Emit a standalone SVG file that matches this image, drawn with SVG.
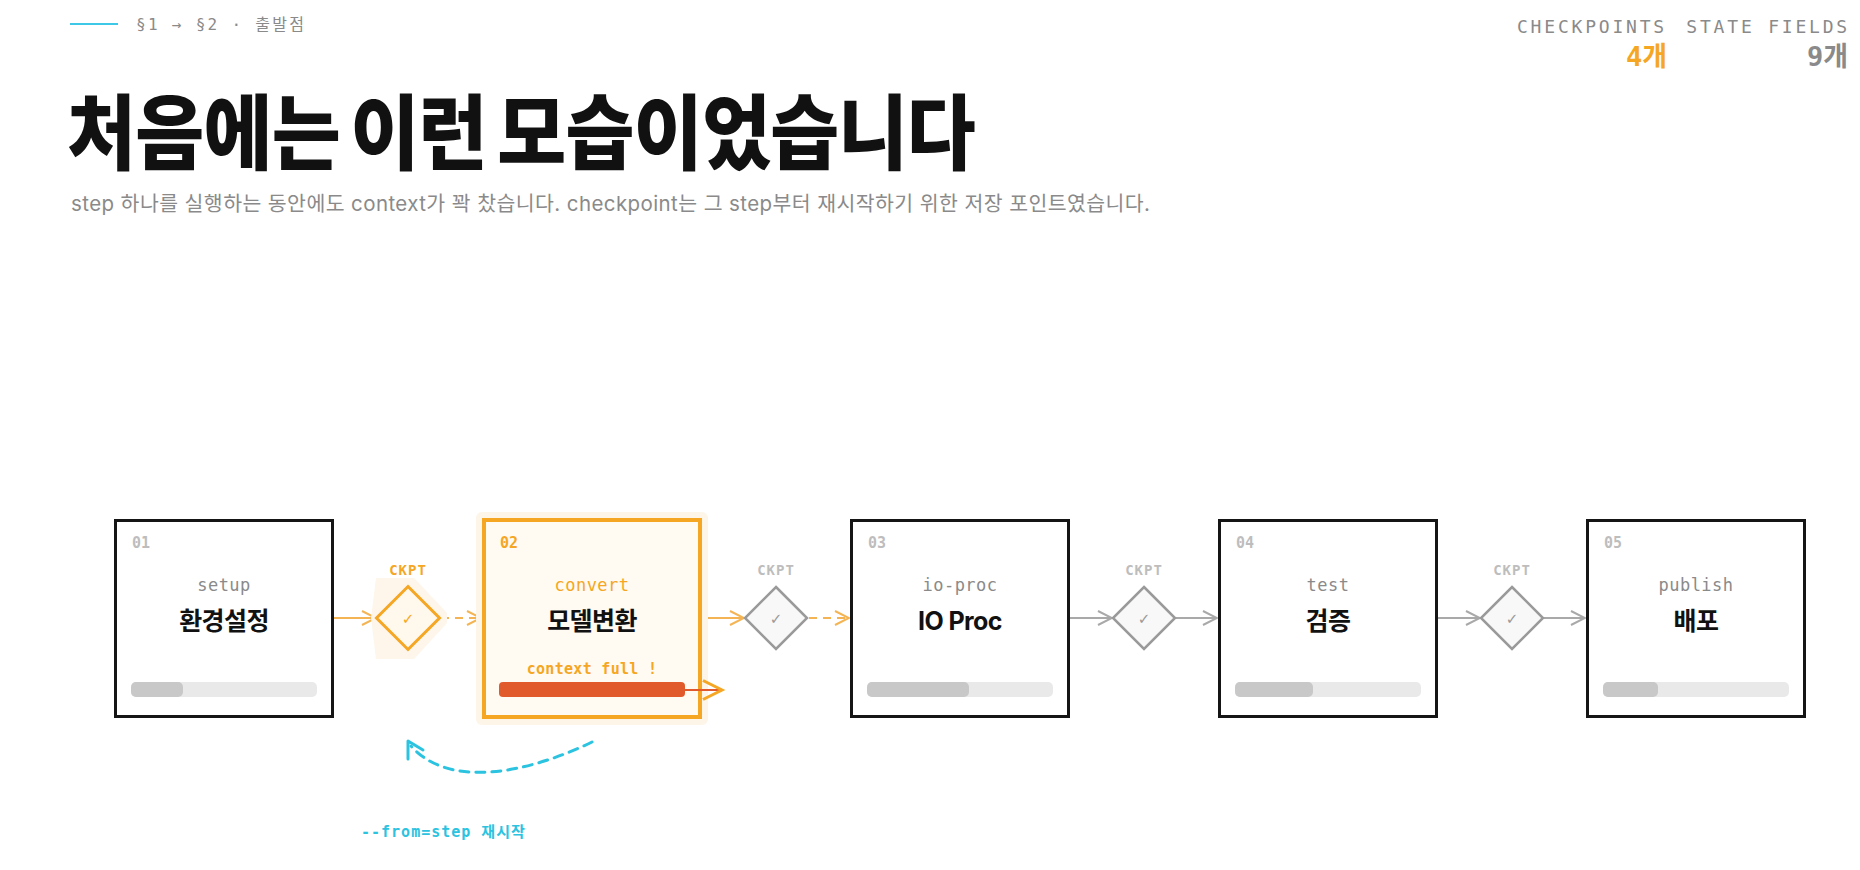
<svg xmlns="http://www.w3.org/2000/svg" width="1860" height="870" viewBox="0 0 1860 870">
<style>
.mono{font-family:"DejaVu Sans Mono","Liberation Mono","Noto Sans CJK KR",monospace}
.sans{font-family:"Inter","Noto Sans CJK KR",sans-serif}
.num{font-size:15px;font-weight:700;fill:#bdbdbd}
.key{font-size:17px;fill:#8a8a8a;text-anchor:middle;letter-spacing:0.5px}
.lab{font-size:25px;font-weight:700;fill:#111;text-anchor:middle;letter-spacing:-0.6px}
.box{fill:#fff;stroke:#151515;stroke-width:3}
.track{fill:#e9e9e9}
.fill{fill:#c8c8c8}
.ck{font-size:14px;font-weight:700;text-anchor:middle;letter-spacing:1px}
.chk{font-family:"DejaVu Sans",sans-serif;font-size:15px;text-anchor:middle}
.lnO{stroke:#f5b453;stroke-width:2;fill:none}
.lnG{stroke:#a9a9a9;stroke-width:2;fill:none}
.dash{stroke-dasharray:8 6}
</style>
<defs>
<marker id="chevO" viewBox="0 0 16 16" refX="15" refY="8" markerWidth="16" markerHeight="16" markerUnits="userSpaceOnUse" orient="auto">
<path d="M1 1 L15 8 L1 15" fill="none" stroke="#f5b453" stroke-width="2"/>
</marker>
<marker id="chevG" viewBox="0 0 16 16" refX="15" refY="8" markerWidth="16" markerHeight="16" markerUnits="userSpaceOnUse" orient="auto">
<path d="M1 1 L15 8 L1 15" fill="none" stroke="#a9a9a9" stroke-width="2"/>
</marker>
</defs>
<rect width="1860" height="870" fill="#fff"/>

<g id="header">
<line x1="70" y1="24" x2="118" y2="24" stroke="#3cc8e6" stroke-width="2"/>
<text x="136" y="30" class="mono" font-size="16" fill="#8a8a8a" letter-spacing="2.3">§1 → §2 · 출발점</text>
<text x="73.3" y="163" transform="scale(0.914,1)" class="sans" font-size="82" font-weight="900" fill="#111" letter-spacing="-0.8" word-spacing="-4">처음에는 이런 모습이었습니다</text>
<text x="71" y="211" class="sans" font-size="20.5" fill="#8a8a8a" textLength="1079" lengthAdjust="spacing">step 하나를 실행하는 동안에도 context가 꽉 찼습니다. checkpoint는 그 step부터 재시작하기 위한 저장 포인트였습니다.</text>
</g>

<g id="stats">
<text x="1667" y="33" class="mono" font-size="18" fill="#8a8a8a" letter-spacing="2.8" text-anchor="end">CHECKPOINTS</text>
<text x="1667" y="66" class="mono" font-size="27" font-weight="700" fill="#f5a623" text-anchor="end">4개</text>
<text x="1850" y="33" class="mono" font-size="18" fill="#8a8a8a" letter-spacing="2.8" text-anchor="end">STATE FIELDS</text>
<text x="1848" y="66" class="mono" font-size="27" font-weight="700" fill="#8a8a8a" text-anchor="end">9개</text>
</g>

<g id="connectors">
<line x1="334" y1="618" x2="376" y2="618" class="lnO" marker-end="url(#chevO)"/>
<line x1="441" y1="618" x2="481" y2="618" class="lnO dash" marker-end="url(#chevO)"/>
<line x1="702" y1="618" x2="744" y2="618" class="lnO" marker-end="url(#chevO)"/>
<line x1="809" y1="618" x2="849" y2="618" class="lnO dash" marker-end="url(#chevO)"/>
<line x1="1070" y1="618" x2="1112" y2="618" class="lnG" marker-end="url(#chevG)"/>
<line x1="1176" y1="618" x2="1217" y2="618" class="lnG" marker-end="url(#chevG)"/>
<line x1="1438" y1="618" x2="1480" y2="618" class="lnG" marker-end="url(#chevG)"/>
<line x1="1544" y1="618" x2="1585" y2="618" class="lnG" marker-end="url(#chevG)"/>
<path d="M592 742 C530 772 450 790 411 746" fill="none" stroke="#2bc3e0" stroke-width="3" stroke-dasharray="9 7" stroke-linecap="round"/>
<path d="M408 759 L408 741 L423 750" fill="none" stroke="#2bc3e0" stroke-width="3" stroke-linecap="round" stroke-linejoin="round"/>
</g>

<g id="node1">
<rect x="115.5" y="520.5" width="217" height="196" class="box"/>
<text x="132" y="548" class="mono num">01</text>
<text x="224" y="591" class="mono key">setup</text>
<text x="224" y="630" class="sans lab">환경설정</text>
<rect x="131" y="682" width="186" height="15" rx="5" class="track"/>
<rect x="131" y="682" width="52" height="15" rx="5" class="fill"/>
</g>

<g id="ckpt1">
<polygon points="376,578 414,578 447,613 447,623 414,659 376,659 371,618" fill="#fef6ea"/>
<text x="408" y="575" class="mono ck" fill="#f5a623">CKPT</text>
<polygon points="408,586.5 439.5,618 408,649.5 376.5,618" fill="#fff8ec" stroke="#f5a623" stroke-width="3" stroke-linejoin="miter"/>
<text x="408" y="624" class="chk" fill="#f5a623">✓</text>
</g>

<g id="node2">
<rect x="476" y="512" width="232" height="213" rx="6" fill="#fdf5e8"/>
<rect x="484" y="520" width="216" height="197" fill="#fffaf2" stroke="#f5a623" stroke-width="4"/>
<text x="500" y="548" class="mono num" style="fill:#f5a623">02</text>
<text x="592" y="591" class="mono key" style="fill:#f5a623">convert</text>
<text x="592" y="630" class="sans lab">모델변환</text>
<text x="592" y="674" class="mono" font-size="15" font-weight="700" fill="#f5a623" text-anchor="middle" letter-spacing="0.3">context full !</text>
<rect x="499" y="682" width="186" height="15" rx="4" fill="#e05a2b"/>
<line x1="684" y1="690" x2="720" y2="690" stroke="#e05a2b" stroke-width="2"/>
<path d="M703 680.5 L722 690 L703 699.5" fill="none" stroke="#f5a623" stroke-width="3"/>
</g>

<g id="ckpt2">
<text x="776" y="575" class="mono ck" fill="#bdbdbd">CKPT</text>
<polygon points="776,587 807,618 776,649 745,618" fill="#f8f8f8" stroke="#9a9a9a" stroke-width="2.5"/>
<text x="776" y="624" class="chk" fill="#9a9a9a">✓</text>
</g>

<g id="node3">
<rect x="851.5" y="520.5" width="217" height="196" class="box"/>
<text x="868" y="548" class="mono num">03</text>
<text x="960" y="591" class="mono key">io-proc</text>
<text x="960" y="630" class="sans lab">IO Proc</text>
<rect x="867" y="682" width="186" height="15" rx="5" class="track"/>
<rect x="867" y="682" width="102" height="15" rx="5" class="fill"/>
</g>

<g id="ckpt3">
<text x="1144" y="575" class="mono ck" fill="#bdbdbd">CKPT</text>
<polygon points="1144,587 1175,618 1144,649 1113,618" fill="#f8f8f8" stroke="#9a9a9a" stroke-width="2.5"/>
<text x="1144" y="624" class="chk" fill="#9a9a9a">✓</text>
</g>

<g id="node4">
<rect x="1219.5" y="520.5" width="217" height="196" class="box"/>
<text x="1236" y="548" class="mono num">04</text>
<text x="1328" y="591" class="mono key">test</text>
<text x="1328" y="630" class="sans lab">검증</text>
<rect x="1235" y="682" width="186" height="15" rx="5" class="track"/>
<rect x="1235" y="682" width="78" height="15" rx="5" class="fill"/>
</g>

<g id="ckpt4">
<text x="1512" y="575" class="mono ck" fill="#bdbdbd">CKPT</text>
<polygon points="1512,587 1543,618 1512,649 1481,618" fill="#f8f8f8" stroke="#9a9a9a" stroke-width="2.5"/>
<text x="1512" y="624" class="chk" fill="#9a9a9a">✓</text>
</g>

<g id="node5">
<rect x="1587.5" y="520.5" width="217" height="196" class="box"/>
<text x="1604" y="548" class="mono num">05</text>
<text x="1696" y="591" class="mono key">publish</text>
<text x="1696" y="630" class="sans lab">배포</text>
<rect x="1603" y="682" width="186" height="15" rx="5" class="track"/>
<rect x="1603" y="682" width="55" height="15" rx="5" class="fill"/>
</g>

<g id="restart-label">
<text x="361" y="837" class="mono" font-size="15" font-weight="700" fill="#2bc3e0" letter-spacing="1">--from=step 재시작</text>
</g>
</svg>
